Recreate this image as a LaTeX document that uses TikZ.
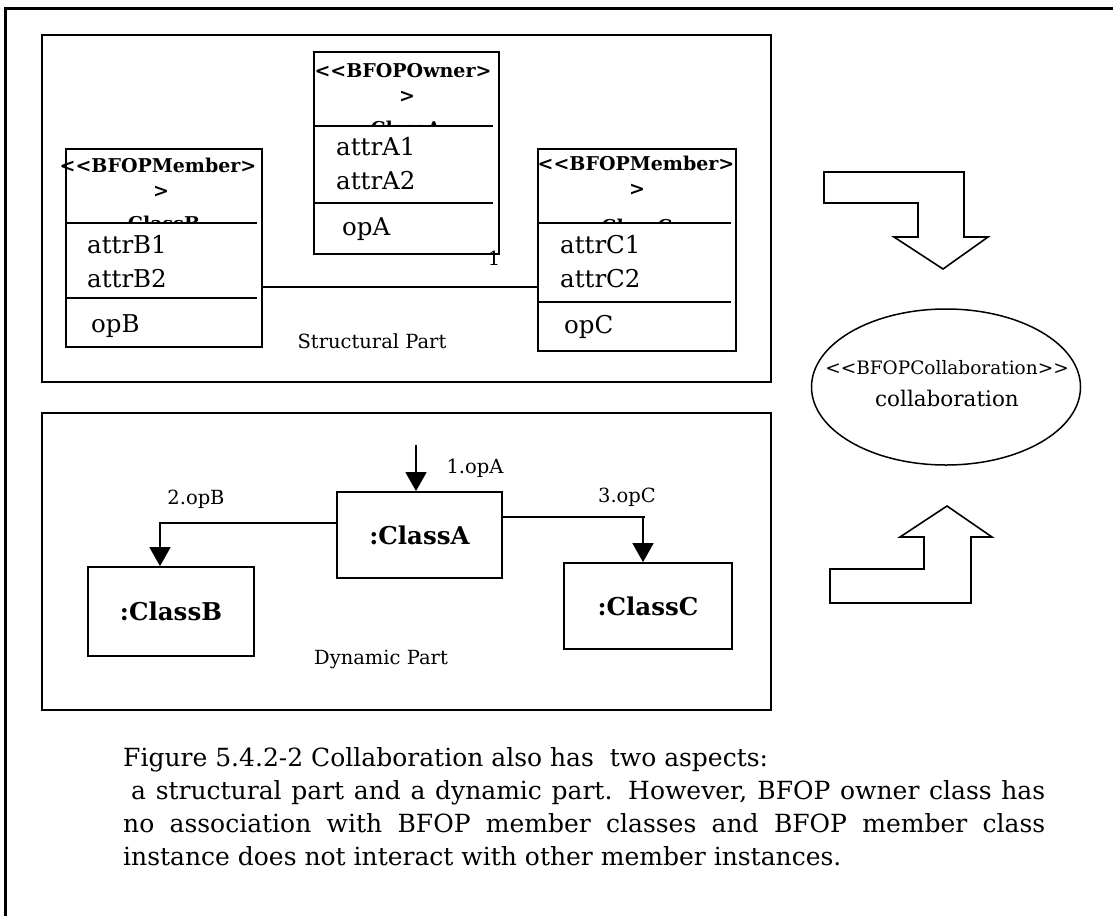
\documentclass[tikz,border=0pt]{standalone}
\usepackage{fontspec}
\setmainfont{DejaVu Serif}
\usetikzlibrary{arrows.meta,shapes.geometric}
\tikzset{
  frm/.style={draw, line width=2pt, inner sep=0},
  clsbox/.style={draw, line width=1.8pt, inner sep=0},
  sep/.style={line width=1.6pt},
  hdr/.style={font=\bfseries\fontsize{19}{22}\selectfont, inner sep=0, anchor=base},
  attr/.style={font=\fontsize{24.5}{28}\selectfont, inner sep=0, anchor=base west},
  lbl/.style={font=\fontsize{19.5}{23}\selectfont, inner sep=0},
  obj/.style={draw, line width=1.8pt, inner sep=0, font=\bfseries\fontsize{24.5}{28}\selectfont},
  capline/.style={font=\fontsize{25}{33}\selectfont, inner sep=0, anchor=base west},
  arr/.style={line width=1.6pt, -{Triangle[length=19pt,width=21pt]}},
  blockarrow/.style={draw, line width=1.6pt, line join=miter},
}
\begin{document}
\begin{tikzpicture}[x=1pt,y=-1pt]
\useasboundingbox (0,0) rectangle (1113,916);
% outer frame (only top and left visible)
\draw[line width=3pt] (5.5,916) -- (5.5,8.5) -- (1113,8.5);

% frames
\node[frm, minimum width=729pt, minimum height=347pt] (struct) at (406.5,208.5) {};
\node[frm, minimum width=729pt, minimum height=297pt] (dyn) at (406.5,561.5) {};

% ---------- structural part ----------
\node[clsbox, minimum width=185pt, minimum height=202pt] (sA) at (406.5,153) {};
\node[clsbox, minimum width=196pt, minimum height=198pt] (sB) at (164,248) {};
\node[clsbox, minimum width=198pt, minimum height=202pt] (sC) at (637,250) {};

% compartments
\draw[sep] (sA.west |- 0,126) -- (493,126);
\draw[sep] (sA.west |- 0,203) -- (493,203);
\draw[sep] (sB.west |- 0,223) -- (257,223);
\draw[sep] (sB.west |- 0,298) -- (257,298);
\draw[sep] (sC.west |- 0,223) -- (731,223);
\draw[sep] (sC.west |- 0,302) -- (731,302);

% headers
\node[hdr] (hA1) at (403,77) {<\kern0pt<BFOPOwner>};
\node[hdr] (hA2) at (407,102) {>};
\begin{scope}
  \clip (314,52) rectangle (499,125);
  \node[hdr] (hA3) at (406,135) {ClassA};
\end{scope}
\node[hdr] (hB1) at (158,172) {<\kern0pt<BFOPMember>};
\node[hdr] (hB2) at (161,197) {>};
\begin{scope}
  \clip (66,149) rectangle (262,222);
  \node[hdr] (hB3) at (164,230) {ClassB};
\end{scope}
\node[hdr] (hC1) at (636,170) {<\kern0pt<BFOPMember>};
\node[hdr] (hC2) at (637,195) {>};
\begin{scope}
  \clip (538,149) rectangle (736,222);
  \node[hdr] (hC3) at (637,233) {ClassC};
\end{scope}

% attributes and operations
\node[attr] (aA1) at (336,155) {attrA1};
\node[attr] (aA2) at (336,189) {attrA2};
\node[attr] (oA) at (342,235) {opA};
\node[attr] (aB1) at (87,253) {attrB1};
\node[attr] (aB2) at (87,287) {attrB2};
\node[attr] (oB) at (91,332) {opB};
\node[attr] (aC1) at (560,253) {attrC1};
\node[attr] (aC2) at (560,287) {attrC2};
\node[attr] (oC) at (564,333) {opC};

\node[lbl] (mult) at (494,258) {1};

% association
\draw[line width=1.5pt] (sB.east |- 0,287) -- (sC.west |- 0,287);
\node[lbl, anchor=base] (stl) at (372,348) {Structural Part};

% ---------- dynamic part ----------
\node[obj, minimum width=165pt, minimum height=86pt] (dA) at (419.5,535) {:ClassA};
\node[obj, minimum width=166pt, minimum height=89pt] (dB) at (171,611.5) {:ClassB};
\node[obj, minimum width=168pt, minimum height=86pt] (dC) at (648,606) {:ClassC};

\coordinate (inA) at (416,445);
\draw[arr] (inA) -- (inA |- dA.north);
\draw[arr] (dA.west |- 0,523) -| (dB.north -| 160,0);
\draw[line width=1.5pt] (dA.east |- 0,517) -- (645,517);
\draw[arr] (643,517) -- (dC.north -| 643,0);

\node[lbl] (l1) at (475,468) {1.opA};
\node[lbl] (l2) at (196,499) {2.opB};
\node[lbl] (l3) at (627,497) {3.opC};
\node[lbl, anchor=base] (dtl) at (381,664) {Dynamic Part};

% ---------- right side ----------
\draw[blockarrow] (824,172) -- (964,172) -- (964,237) -- (988,237) -- (943,269)
  -- (894,237) -- (918,237) -- (918,203) -- (824,203) -- cycle;
\node[ellipse, draw, line width=1.5pt, minimum width=269pt, minimum height=156pt, inner sep=0] (collab) at (946,387) {};
\node[font=\fontsize{18.5}{22}\selectfont, inner sep=0, anchor=base] (cs) at (947,374) {<\kern0pt<BFOPCollaboration>\kern0pt>};
\node[font=\fontsize{21.5}{25}\selectfont, inner sep=0, anchor=base] (cn) at (947,406) {collaboration};
\draw[blockarrow] (947,506) -- (992,537) -- (971,537) -- (971,603) -- (830,603)
  -- (830,569) -- (924,569) -- (924,537) -- (900,537) -- cycle;

% ---------- caption ----------
\node[capline] (c1) at (123,766) {Figure 5.4.2-2 Collaboration also has\ \ two aspects:};
\node[capline] (c2) at (131,799) {\makebox[914pt][s]{a structural part and a dynamic part. However, BFOP owner class has}};
\node[capline] (c3) at (123,832) {\makebox[922pt][s]{no association with BFOP member classes and BFOP member class}};
\node[capline] (c4) at (123,865) {instance does not interact with other member instances.};
\end{tikzpicture}
\end{document}
